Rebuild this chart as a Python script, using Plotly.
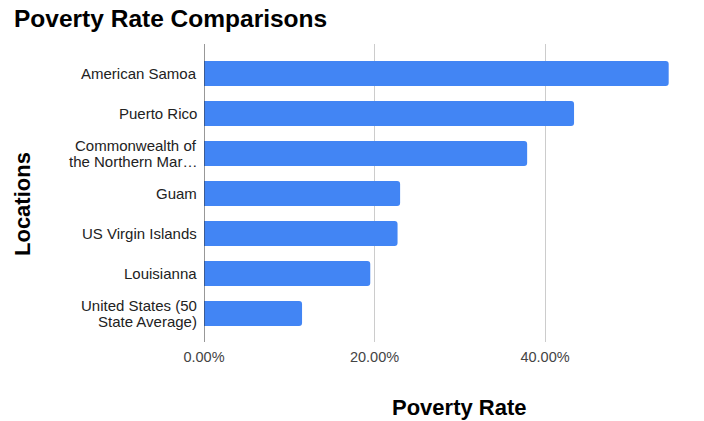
import plotly.graph_objects as go

locations = [
    "American Samoa",
    "Puerto Rico",
    "Commonwealth of<br>the Northern Mar…",
    "Guam",
    "US Virgin Islands",
    "Louisianna",
    "United States (50<br>State Average)",
]
poverty_rate = [0.545, 0.434, 0.379, 0.230, 0.227, 0.195, 0.115]
x_ticks = [0.0, 0.2, 0.4]
x_tick_labels = ["0.00%", "20.00%", "40.00%"]

FONT = "Liberation Sans, Arial, sans-serif"

# plot area in pixels
L, R, T, B = 204, 14, 44, 79
PW, PH = 704 - L - R, 421 - T - B
LINE_GAP = 15.5  # px between lines of a wrapped category label

fig = go.Figure(
    go.Bar(
        x=poverty_rate,
        y=list(range(len(locations))),
        orientation="h",
        marker=dict(color="#4285F4", line=dict(width=0)),
        width=0.625,
    )
)

fig.update_layout(
    width=704,
    height=421,
    margin=dict(l=L, r=R, t=T, b=B),
    paper_bgcolor="white",
    plot_bgcolor="white",
    showlegend=False,
    barcornerradius=3,
    font=dict(family=FONT, size=15, color="#444444"),
)

fig.update_xaxes(
    range=[0, 0.57],
    tickvals=x_ticks,
    ticktext=x_tick_labels,
    showgrid=True,
    gridcolor="#cccccc",
    gridwidth=1,
    zeroline=False,
    showline=False,
    ticks="",
    ticklabelstandoff=4,
    tickfont=dict(size=14.5, color="#444444"),
)

fig.update_yaxes(
    range=[6.7125, -0.7375],
    tickvals=list(range(len(locations))),
    showticklabels=False,
    showgrid=False,
    zeroline=False,
    showline=False,
    ticks="",
)

# category labels, with tighter line spacing for wrapped names
for i, name in enumerate(locations):
    lines = name.split("<br>")
    n = len(lines)
    for j, line in enumerate(lines):
        fig.add_annotation(
            text=line, xref="paper", yref="y", x=-5 / PW, y=i,
            xanchor="right", yanchor="middle", showarrow=False,
            yshift=((n - 1) / 2 - j) * LINE_GAP,
            font=dict(family=FONT, size=15, color="#222222"),
        )

# dark baseline at 0%
fig.add_shape(
    type="line", xref="x", yref="paper", x0=0, x1=0, y0=0, y1=1,
    line=dict(color="#333333", width=1),
)

fig.add_annotation(
    text="<b>Poverty Rate Comparisons</b>", xref="paper", yref="paper",
    x=(12 - L) / PW, y=1 + (T - 18) / PH, xanchor="left", yanchor="middle",
    showarrow=False, font=dict(family=FONT, size=24.5, color="#000000"),
)
fig.add_annotation(
    text="<b>Locations</b>", xref="paper", yref="paper",
    x=(22 - L) / PW, y=1 - (204 - T) / PH, xanchor="center", yanchor="middle",
    textangle=-90,
    showarrow=False, font=dict(family=FONT, size=22, color="#000000"),
)
fig.add_annotation(
    text="<b>Poverty Rate</b>", xref="paper", yref="paper",
    x=(459 - L) / PW, y=-(407 - (T + PH)) / PH, xanchor="center", yanchor="middle",
    showarrow=False, font=dict(family=FONT, size=22, color="#000000"),
)

fig.write_html("out.html")
